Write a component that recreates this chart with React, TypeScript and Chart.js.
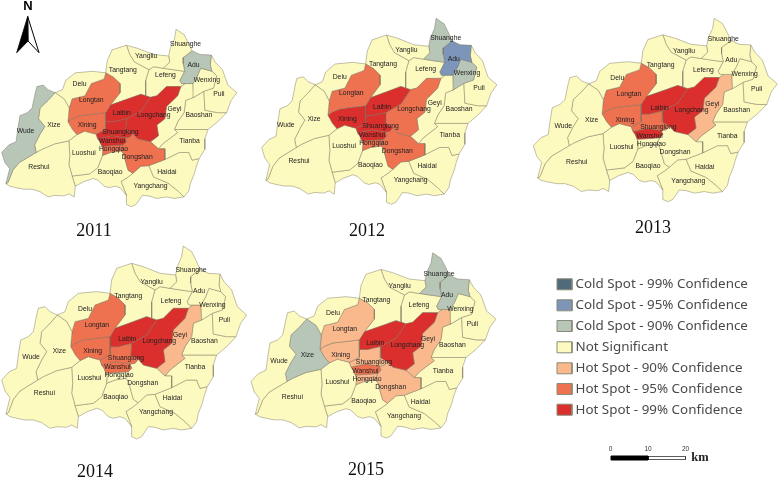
import React, { useEffect, useRef } from "react";
import { Chart, registerables } from "chart.js";
Chart.register(...registerables);

type Pt = [number, number];

// Region outlines, in the map's own units
const wude: Pt[] = [[172,225],[150,250],[125,275],[120,310],[140,335],[125,360],[108,395],[113,420],[60,453],[40,478],[25,518],[18,522],[30,473],[15,453],[5,420],[28,395],[50,385],[55,345],[62,300],[85,290],[100,275],[110,225],[115,205],[135,200],[150,215]];
const xize: Pt[] = [[172,225],[200,245],[216,275],[212,320],[226,345],[240,362],[215,382],[170,392],[130,410],[113,420],[108,395],[125,360],[140,335],[120,310],[125,275],[150,250]];
const reshui: Pt[] = [[113,420],[130,410],[170,392],[215,382],[218,430],[215,460],[222,485],[225,497],[235,530],[232,565],[215,555],[200,562],[170,560],[150,565],[125,548],[100,540],[75,540],[50,535],[30,530],[18,522],[25,518],[40,478],[60,453]];
const delu: Pt[] = [[172,225],[195,215],[205,185],[235,160],[290,155],[330,160],[325,180],[285,195],[265,235],[225,245],[216,275],[200,245]];
const longtan: Pt[] = [[330,160],[355,175],[375,195],[375,225],[345,265],[330,290],[290,295],[250,300],[225,310],[212,320],[216,275],[225,245],[265,235],[285,195],[325,180]];
const xining: Pt[] = [[212,320],[225,310],[250,300],[290,295],[330,290],[330,320],[330,345],[320,350],[300,360],[270,352],[265,350],[240,362],[226,345]];
const laibin: Pt[] = [[330,290],[345,265],[400,245],[440,230],[470,240],[440,285],[395,310],[355,320],[330,320]];
const longchang: Pt[] = [[470,240],[490,235],[520,205],[565,205],[555,235],[540,250],[520,270],[515,310],[490,330],[495,365],[470,385],[430,375],[415,358],[393,345],[395,310],[440,285]];
const shuanglong: Pt[] = [[330,320],[355,320],[395,310],[393,345],[415,358],[405,370],[390,372],[350,365],[305,375],[300,360],[320,350],[330,345]];
const wanshui: Pt[] = [[305,375],[350,365],[390,372],[395,385],[385,395],[345,398],[318,400],[312,385]];
const hongqiao: Pt[] = [[318,400],[345,398],[385,395],[378,415],[345,420],[320,430],[322,410]];
const dongshan: Pt[] = [[390,372],[405,370],[415,358],[430,375],[470,385],[495,408],[515,408],[515,443],[465,463],[440,465],[415,488],[400,478],[385,423],[378,415],[385,395],[395,385]];
const luoshui: Pt[] = [[215,382],[240,362],[265,350],[270,352],[300,360],[305,375],[312,385],[318,400],[322,410],[320,430],[305,470],[280,490],[225,497],[222,485],[215,460],[218,430]];
const baoqiao: Pt[] = [[320,430],[345,420],[378,415],[385,423],[400,478],[415,488],[400,500],[378,515],[395,560],[375,535],[360,530],[340,535],[325,530],[305,510],[290,505],[262,515],[235,530],[225,497],[280,490],[305,470]];
const tangtang: Pt[] = [[330,160],[335,120],[350,85],[395,70],[405,100],[420,125],[465,150],[455,185],[455,235],[440,230],[400,245],[345,265],[375,225],[375,195],[355,175]];
const yangliu: Pt[] = [[395,70],[430,80],[480,100],[527,105],[530,125],[510,145],[480,140],[465,150],[420,125],[405,100]];
const shuanghe: Pt[] = [[527,105],[532,80],[545,50],[550,18],[575,35],[590,65],[600,88],[572,110],[572,130],[577,155],[542,150],[510,145],[530,125]];
const adu: Pt[] = [[600,88],[625,100],[660,102],[657,135],[662,155],[627,145],[617,170],[603,195],[567,195],[562,185],[577,155],[572,130],[572,110]];
const wenxing: Pt[] = [[627,145],[662,155],[677,170],[667,210],[637,220],[605,240],[603,195],[617,170]];
const puli: Pt[] = [[660,102],[672,125],[695,150],[712,200],[740,225],[722,250],[708,290],[680,290],[640,282],[637,220],[667,210],[677,170],[662,155],[657,135]];
const lefeng: Pt[] = [[465,150],[480,140],[510,145],[542,150],[577,155],[562,185],[567,195],[578,195],[565,205],[520,205],[490,235],[470,240],[455,235],[455,185]];
const geyi: Pt[] = [[578,195],[603,195],[605,240],[580,250],[575,290],[555,320],[545,345],[555,355],[510,390],[495,408],[470,385],[495,365],[490,330],[515,310],[520,270],[540,250],[555,235],[565,205]];
const baoshan: Pt[] = [[605,240],[637,220],[640,282],[680,290],[708,290],[680,320],[650,345],[600,345],[545,345],[555,320],[575,290],[580,250]];
const tianba: Pt[] = [[545,345],[600,345],[650,345],[640,375],[640,410],[622,440],[600,445],[590,420],[560,420],[515,443],[515,408],[495,408],[510,390],[555,355]];
const haidai: Pt[] = [[515,443],[560,420],[590,420],[600,445],[622,440],[612,470],[607,490],[595,520],[590,545],[575,565],[555,545],[525,520],[480,500],[465,463]];
const yangchang: Pt[] = [[465,463],[480,500],[525,520],[555,545],[575,565],[545,570],[520,565],[490,570],[465,562],[445,560],[425,590],[410,597],[395,590],[395,560],[378,515],[400,500],[415,488],[440,465]];

const regionNames = ["Wude","Xize","Reshui","Delu","Longtan","Xining","Laibin","Longchang","Shuanglong","Wanshui","Hongqiao","Dongshan","Luoshui","Baoqiao","Tangtang","Yangliu","Shuanghe","Adu","Wenxing","Puli","Lefeng","Geyi","Baoshan","Tianba","Haidai","Yangchang"];
const regionOutlines = [wude,xize,reshui,delu,longtan,xining,laibin,longchang,shuanglong,wanshui,hongqiao,dongshan,luoshui,baoqiao,tangtang,yangliu,shuanghe,adu,wenxing,puli,lefeng,geyi,baoshan,tianba,haidai,yangchang];
const labelAnchors: Pt[] = [[93,350],[178,333],[133,458],[255,208],[290,256],[278,332],[382,296],[478,303],[378,353],[352,380],[357,405],[428,428],[268,415],[347,472],[385,167],[455,125],[573,90],[597,152],[637,196],[673,240],[513,182],[540,285],[613,303],[585,380],[517,473],[468,515]];

// Class per region: 0 = not significant; 1,2,3 hot 90/95/99; -1,-2,-3 cold 90/95/99
const classes2011 = [-1,0,0,0,2,2,3,3,3,3,2,2,0,0,0,0,0,-1,0,0,0,0,0,0,0,0];
const classes2012 = [0,0,0,0,2,3,3,2,3,3,2,2,0,0,0,0,-1,-2,-1,0,0,0,0,0,0,0];
const classes2013 = [0,0,0,0,2,2,3,3,2,3,0,0,0,0,0,0,0,0,0,0,0,1,0,0,0,0];
const classes2014 = [0,0,0,0,2,2,3,3,2,2,0,0,0,0,0,0,0,0,0,0,0,1,0,0,0,0];
const classes2015 = [0,-1,0,0,1,1,3,3,1,2,1,1,0,0,0,0,-1,-1,0,0,0,1,0,0,0,0];

const years = ["2011","2012","2013","2014","2015"];
const panelClasses = [classes2011,classes2012,classes2013,classes2014,classes2015];
// [scaleX, scaleY, offsetX, offsetY] of each panel's outlines
const panelFits = [[0.32,0.3063,0.07,23.83],[0.32,0.3213,260.07,12.55],[0.332,0.3167,531.67,12.63],[0.3333,0.3333,0,240],[0.3333,0.32,249.33,247.07]];
const labelOffsets: Pt[] = [[-5.5,14.3],[254.7,8],[532.3,9],[0,240],[248,244]];
const yearAnchors: Pt[] = [[94,231],[367,231],[653,228],[95,472],[366,470]];

const legendLabels = ["Cold Spot - 99% Confidence","Cold Spot - 95% Confidence","Cold Spot - 90% Confidence","Not Significant","Hot Spot - 90% Confidence","Hot Spot - 95% Confidence","Hot Spot - 99% Confidence"];
const legendClasses = [-3,-2,-1,0,1,2,3];
const legendRows = [284.3,305.3,326,347.3,368.3,389,409.7];

const scaleTicks = ["0","10","20"];
const scaleTickX = [610.5,648,685.5];

const arrowLeft: Pt[] = [[27.7,16.5],[16.7,52.7],[28,41]];
const arrowRight: Pt[] = [[27.7,16.5],[39,52.7],[28,41]];

const classColor = (c: number) => ({ "-3":"#4f6b7a", "-2":"#7c95b8", "-1":"#b8c6b8", "0":"#fdfabf", "1":"#f9b98c", "2":"#ee7150", "3":"#da2f2c" } as Record<string,string>)[String(c)];

const poly = (pts: Pt[], fill: string, stroke: string, width: number) => ({
  data: [...pts, pts[0]].map(([x, y]) => ({ x, y })),
  showLine: true, fill: "shape" as const, backgroundColor: fill, borderColor: stroke, borderWidth: width,
  pointRadius: 0, pointHoverRadius: 0, tension: 0,
});

type T = { text: string; x: number; y: number; font: string; color: string; align?: CanvasTextAlign };

export default function App() {
  const ref = useRef<HTMLCanvasElement>(null);
  useEffect(() => {
    document.body.style.margin = "0";
    document.body.style.background = "#fff";
    const datasets: any[] = [];
    const texts: T[] = [];
    const serif = '"Liberation Serif"';
    panelClasses.forEach((cls, p) => {
      const [sx, sy, ox, oy] = panelFits[p];
      const [dx, dy] = labelOffsets[p];
      regionOutlines.forEach((o, i) => {
        datasets.push(poly(o.map(([u, v]) => [u * sx + ox, v * sy + oy] as Pt), classColor(cls[i]), "rgba(115,110,90,0.55)", 0.8));
        texts.push({ text: regionNames[i], x: labelAnchors[i][0] / 3 + dx, y: labelAnchors[i][1] / 3 + dy, font: '6.8px "Liberation Sans"', color: "#222" });
      });
      texts.push({ text: years[p], x: yearAnchors[p][0], y: yearAnchors[p][1], font: `18px ${serif}`, color: "#111" });
    });
    legendLabels.forEach((l, i) => {
      const y = legendRows[i];
      const b: Pt[] = [[557, y - 5.5], [572, y - 5.5], [572, y + 5.5], [557, y + 5.5]];
      datasets.push(poly(b, classColor(legendClasses[i]), "#8a8a78", 1));
      texts.push({ text: l, x: 575.5, y, font: '13.4px "Noto Sans"', color: "#4a4a4a", align: "left" });
    });
    datasets.push(poly([[611,456],[648,456],[648,460],[611,460]], "#000", "#000", 1));
    datasets.push(poly([[648,456.5],[685.5,456.5],[685.5,459.5],[648,459.5]], "#fff", "#333", 0.8));
    scaleTicks.forEach((t, i) => texts.push({ text: t, x: scaleTickX[i], y: 449.5, font: '6.5px "Liberation Sans"', color: "#333" }));
    texts.push({ text: "km", x: 700, y: 458, font: `bold 12.5px ${serif}`, color: "#222" });
    datasets.push(poly(arrowLeft, "#000", "#000", 0.8));
    datasets.push(poly(arrowRight, "#fff", "#000", 1));
    texts.push({ text: "N", x: 28, y: 6, font: 'bold 13px "Liberation Sans"', color: "#000" });

    const textPlugin = {
      id: "maptext",
      afterDatasetsDraw(chart: any) {
        const { ctx, scales } = chart;
        ctx.save();
        ctx.textBaseline = "middle";
        texts.forEach((t) => {
          ctx.font = t.font;
          ctx.fillStyle = t.color;
          ctx.textAlign = t.align ?? "center";
          ctx.fillText(t.text, scales.x.getPixelForValue(t.x), scales.y.getPixelForValue(t.y));
        });
        ctx.restore();
      },
    };

    const chart = new Chart(ref.current!, {
      type: "scatter",
      data: { datasets },
      plugins: [textPlugin],
      options: {
        animation: false,
        responsive: false,
        layout: { padding: 0 },
        plugins: { legend: { display: false }, tooltip: { enabled: false } },
        scales: {
          x: { type: "linear", min: 0, max: 778, display: false },
          y: { type: "linear", min: 0, max: 478, reverse: true, display: false },
        },
      },
    } as any);
    return () => chart.destroy();
  }, []);
  return <canvas ref={ref} width={778} height={478} style={{ display: "block" }} />;
}
